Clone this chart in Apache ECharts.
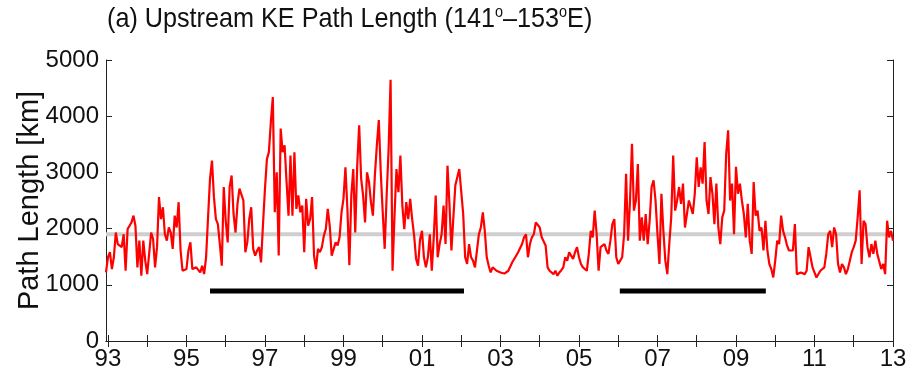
<!DOCTYPE html>
<html><head><meta charset="utf-8">
<script src="https://cdn.jsdelivr.net/npm/echarts@6/dist/echarts.min.js"></script>
<style>html,body{margin:0;padding:0;background:#fff}#c{width:910px;height:386px}</style>
</head><body><div id="c"></div>
<script>
// Time series sampled every 0.05 yr starting at 1992.95
const startYear = 1992.95;
const stepYear = 0.05;
const pathA = [1220,1490,1580,1280,1490,1930,1725,1700,1670,1900,1250,1990,2050,2110,2230,2050,1310,1785,1160,1785,
  1430,1190,1220,1930,1815,1310,1670,2560,2170,2380,1900,1785,2020,1930,1640,2230,2020,2470,1610,1250,
  1220,1280,1610,1755,1280,1250,1310,1280,1220,1340,1190,1490,2200,2885,3210,2560,2170,2080,1725,1340,
  2740,2140,1755,2740,2945,2260,1930,2440,2710,2710,2500,1580,1755,2170,2380,1640,1520,1610,1670,1400,2080];
const pathB = [2710,3240,3360,3900,4340,2290,3000,1520,3780,3360,3480,2830,2230,3300,2230,3360,2350,2590,2290,2410,
  1580,2530,2050,2170,2560,1520,1280,1640,1580,1670,1875,1990,2350,2050,1520,1520,1755,1700,1845,2290,
  2530,3090,2350,1350,2590,3060,1930,3120,3840,2890,2590,2110,3000,2830,2470,2230,2945,3480,3930,3000,
  2290,1640,2590,3420,4650,1250,2230,3060,2650,3300,2410,1990,2470,2170,2530,2170,1875,1460,1340,1800];
const pathC = [1960,1490,1310,1490,1900,1250,1845,2590,1490,1725,1900,2410,1725,3120,2440,1610,2200,2770,2915,3060,
  3090,2260,1490,1370,1725,1490,1430,1310,1310,1900,2020,2290,1960,1490,1340,1220,1310,1340,1250,1280,
  1220,1250,1200,1190,1250,1280,1400,1460,1490,1580,1610,1725,1845,1900,1490,1725,1845,1900,2110,2080,
  2020,1845,1875,1700,1310,1250,1220,1190,1250,1160,1220,1260,1310,1490,1430,1580,1520,1460,1580,1670];
const pathD = [1490,1370,1310,1280,1250,1550,1960,1845,2320,1900,1250,1670,1670,1725,1610,1550,1785,2080,2170,1490,
  1370,1430,1490,1900,2975,1785,2500,3510,2320,2500,3150,1785,2200,1785,2260,1725,2140,2740,2860,2500,
  1900,1370,2620,1960,1430,1190,1725,2200,3300,2320,2500,2740,2440,2800,2020,2260,2500,2380,2260,2620,
  3270,2740,3090,2800,3540,2500,2260,2915,2620,2080,2800,2020,1725,2200,2320,3330,3750,2500,2800,1900];
const pathE = [3100,2620,2800,2500,2260,1845,2440,1785,1550,2830,2230,2320,1960,2020,1610,2140,1610,1370,1280,1130,
  1430,1785,1725,2230,1960,1845,1700,1610,1580,1610,2080,1190,1190,1220,1250,1190,1250,1670,1490,1310,
  1280,1130,1160,1250,1280,1310,1550,1900,1960,1670,2020,1900,1370,1220,1370,1310,1190,1280,1430,1580,
  1670,1785,2200,2680,1370,2140,2080,1670,1490,1725,1550,1785,1550,1550,1280,1370,1190,2140,1845,1960,1785];

const meanLength = 1900;
const barLevel = 890;
const barPeriods = [[1995.6, 2002.07], [2006.04, 2009.76]];
const yearTicks = [1993,1994,1995,1996,1997,1998,1999,2000,2001,2002,2003,2004,2005,2006,2007,2008,2009,2010,2011,2012,2013];
const labelYears = [1993,1995,1997,1999,2001,2003,2005,2007,2009,2011,2013];
const yearLabels = ['93','95','97','99','01','03','05','07','09','11','13'];
const titleText = '(a) Upstream KE Path Length (141{s|o}\u2013153{s|o}E)';

const allValues = [].concat(pathA, pathB, pathC, pathD, pathE);
const seriesData = allValues.map((v, k) => [Math.round((startYear + stepYear * k) * 100) / 100, v]);

const sans = '"Liberation Sans", Arial, sans-serif';
const chart = echarts.init(document.getElementById('c'));
const axisLineStyle = { color: '#222', width: 1 };
chart.setOption({
  animation: false,
  backgroundColor: '#fff',
  graphic: [{
    type: 'text', left: 107, top: 5, scaleX: 0.9, silent: true,
    style: {
      text: titleText, fontFamily: sans, fontSize: 28, fill: '#111',
      rich: { s: { fontFamily: sans, fontSize: 16, fill: '#111', verticalAlign: 'top', padding: [0, 0, 12, 0] } }
    }
  }],
  grid: { left: 106, right: 17, top: 60, bottom: 45, containLabel: false },
  xAxis: [{
    type: 'value', min: 1992.95, max: 2013,
    axisLine: { lineStyle: axisLineStyle },
    axisTick: { inside: true, length: 6, customValues: yearTicks, lineStyle: axisLineStyle },
    axisLabel: { customValues: labelYears, formatter: v => yearLabels[labelYears.indexOf(Math.round(v))],
      fontFamily: sans, fontSize: 24, color: '#111', margin: 6 },
    splitLine: { show: false }
  }, {
    type: 'value', min: 1992.95, max: 2013, position: 'top',
    axisLine: { lineStyle: axisLineStyle },
    axisTick: { inside: true, length: 6, customValues: yearTicks, lineStyle: axisLineStyle },
    axisLabel: { show: false }, splitLine: { show: false }
  }],
  yAxis: [{
    type: 'value', min: 0, max: 5000, interval: 1000,
    name: 'Path Length [km]', nameLocation: 'middle', nameGap: 62, nameMoveOverlap: false,
    nameTextStyle: { fontFamily: sans, fontSize: 29, color: '#111' },
    axisLine: { show: true, lineStyle: axisLineStyle },
    axisTick: { show: true, inside: true, length: 6, lineStyle: axisLineStyle },
    axisLabel: { fontFamily: sans, fontSize: 24, color: '#111', margin: 7, formatter: v => String(v) },
    splitLine: { show: false }
  }, {
    type: 'value', min: 0, max: 5000, interval: 1000, position: 'right',
    axisLine: { show: true, lineStyle: axisLineStyle },
    axisTick: { show: true, inside: true, length: 6, lineStyle: axisLineStyle },
    axisLabel: { show: false }, splitLine: { show: false }
  }],
  series: [
    { type: 'line', data: [[1992.95, meanLength], [2013, meanLength]], symbol: 'none', silent: true,
      lineStyle: { color: '#cfcfcf', width: 4 }, z: 1 },
    { type: 'line', data: seriesData, symbol: 'none', lineStyle: { color: '#ff0000', width: 2.2 }, z: 3 }
  ].concat(barPeriods.map(p => ({
    type: 'line', data: [[p[0], barLevel], [p[1], barLevel]], symbol: 'none', silent: true,
    lineStyle: { color: '#000', width: 5, cap: 'butt' }, z: 4
  })))
});
</script></body></html>
